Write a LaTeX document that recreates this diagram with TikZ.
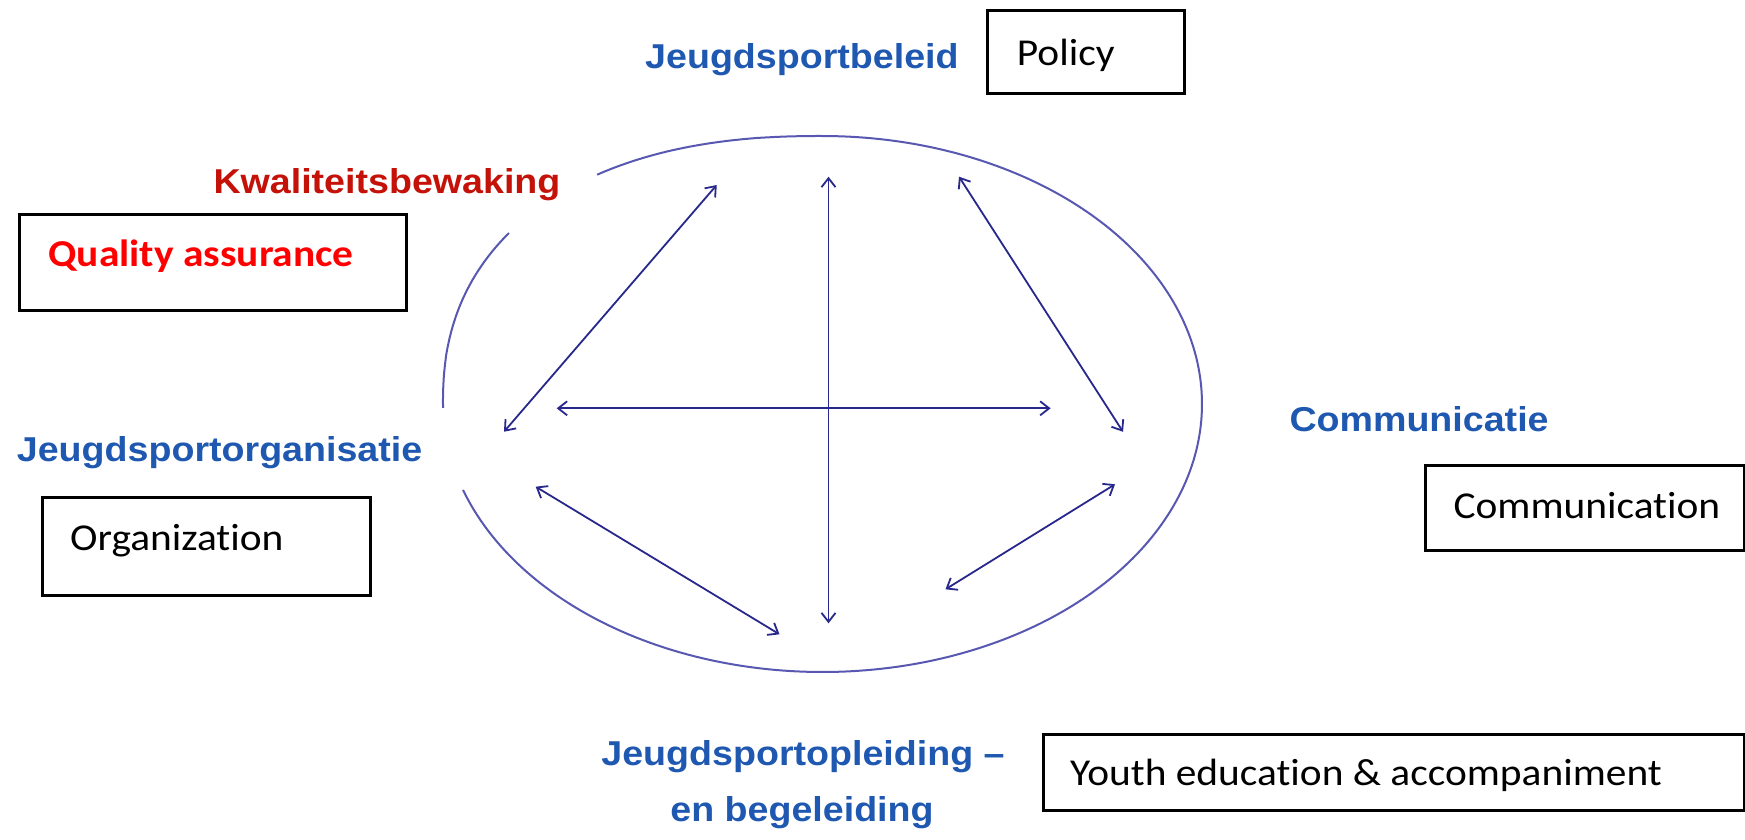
\documentclass[tikz,border=0pt]{standalone}
\usepackage{fontspec}
\usetikzlibrary{arrows.meta}
\newfontfamily\hfont[FakeStretch=1.09]{Liberation Sans}
\newfontfamily\cfont[FakeStretch=1.09,Ligatures=CommonOff]{Carlito}
\definecolor{headblue}{RGB}{31,88,176}
\definecolor{headred}{RGB}{196,18,8}
\definecolor{qred}{RGB}{255,0,0}
\definecolor{ellcol}{RGB}{88,88,178}
\definecolor{arrcol}{RGB}{40,40,140}
\tikzset{
  head/.style={inner sep=0pt, anchor=base west, font=\hfont\bfseries\fontsize{34.5}{41}\selectfont, text=headblue},
  headc/.style={head, anchor=base},
  lbl/.style={inner sep=0pt, anchor=base west, font=\cfont\fontsize{38}{45}\selectfont, text=black},
  boxx/.style={draw=black, line width=3pt, inner sep=0pt, fill=none},
  ell/.style={draw=ellcol, line width=2pt},
  dbl/.style={draw=arrcol, line width=1.8pt, {Straight Barb[length=9pt,width=14pt]}-{Straight Barb[length=9pt,width=14pt]}}
}
\begin{document}
\begin{tikzpicture}[x=1pt,y=-1pt]
\useasboundingbox (0,0) rectangle (1745,839);
\fill[white] (0,0) rectangle (1745,839);

% ring: ellipse, fuller in its upper-left quarter
\draw[ell, line join=round]
  plot[domain=123.3:90.05, samples=60, variable=\t]
    ({822.5-379.5*(abs(cos(\t)))^0.8696}, {404-268*(abs(sin(\t)))^0.8696})
  -- plot[domain=90:-161.3, samples=240, variable=\t]
    ({822.5+379.5*cos(\t)}, {404-268*sin(\t)});
\draw[ell, line join=round]
  plot[domain=180.85:180, samples=3, variable=\t]
    ({822.5+379.5*cos(\t)}, {404-268*sin(\t)})
  -- plot[domain=179.95:143.4, samples=60, variable=\t]
    ({822.5-379.5*(abs(cos(\t)))^0.8696}, {404-268*(abs(sin(\t)))^0.8696});

% arrow end points
\coordinate (ulA) at (716.7,185);
\coordinate (ulB) at (504,431.7);
\coordinate (vA) at (828.5,176.7);
\coordinate (vB) at (828.5,623.3);
\coordinate (hA) at (556.7,408.3);
\coordinate (hB) at (1050.6,408.3);
\coordinate (urA) at (959,176.7);
\coordinate (urB) at (1123,431.8);
\coordinate (llA) at (535.7,486.7);
\coordinate (llB) at (779.5,634.3);
\coordinate (lrA) at (1115,484.3);
\coordinate (lrB) at (945.5,589.3);

\draw[dbl] (ulA) -- (ulB);
\draw[dbl] (vA) -- (vB);
\draw[dbl] (hA) -- (hB);
\draw[dbl] (urA) -- (urB);
\draw[dbl] (llA) -- (llB);
\draw[dbl] (lrA) -- (lrB);

% headings
\node[head] (jb) at (645,68.3) {Jeugdsportbeleid};
\node[head, text=headred] (kw) at (213.3,193.3) {Kwaliteitsbewaking};
\node[head] (jo) at (16.7,461.7) {Jeugdsportorganisatie};
\node[head] (co) at (1289.3,431.7) {Communicatie};
\node[headc] (jop1) at (803,765) {Jeugdsportopleiding –};
\node[headc] (jop2) at (802,821.7) {en begeleiding};

% boxes
\node[boxx, minimum width=197pt, minimum height=83.5pt, anchor=north west] (pbox) at (986,8.5) {};
\node[boxx, minimum width=387pt, minimum height=96pt, anchor=north west] (qbox) at (18,213) {};
\node[boxx, minimum width=328pt, minimum height=98pt, anchor=north west] (obox) at (41,496) {};
\node[boxx, minimum width=319pt, minimum height=85pt, anchor=north west] (cbox) at (1424,464) {};
\node[boxx, minimum width=701pt, minimum height=76pt, anchor=north west] (ybox) at (1042,733) {};

% box texts
\node[lbl] (ptxt) at (1016.7,65) {Policy};
\node[lbl, font=\cfont\bfseries\fontsize{38}{45}\selectfont, text=qred] (qtxt) at (48.3,266) {Quality assurance};
\node[lbl] (otxt) at (70,550) {Organization};
\node[lbl] (ctxt) at (1453.3,518.3) {Communication};
\node[lbl] (ytxt) at (1070,785.7) {Youth education \& accompaniment};
\end{tikzpicture}
\end{document}
